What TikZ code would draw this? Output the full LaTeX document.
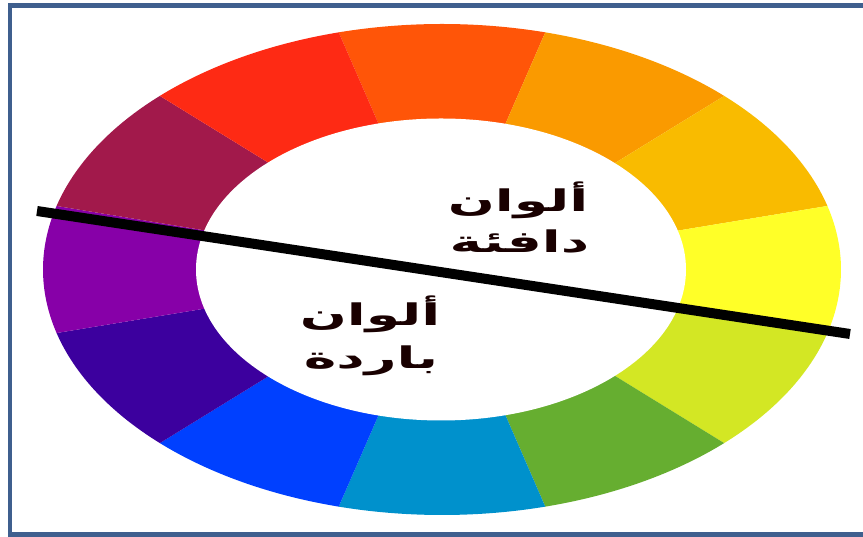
\documentclass[tikz,border=0pt]{standalone}
\usepackage{fontspec}
\usepackage{tikz}
\usetikzlibrary{positioning}
\TeXXeTstate=1
\newfontfamily\arabicfont[Script=Arabic]{DejaVu Sans}
\definecolor{frameBlue}{HTML}{3F5F8E}
\definecolor{wheelTop}{HTML}{FF5508}
\definecolor{wheelOrange}{HTML}{FA9A00}
\definecolor{wheelAmber}{HTML}{F9BB00}
\definecolor{wheelYellow}{HTML}{FFFF28}
\definecolor{wheelLime}{HTML}{D3E724}
\definecolor{wheelGreen}{HTML}{66AE30}
\definecolor{wheelCyan}{HTML}{0091CC}
\definecolor{wheelBlue}{HTML}{0040FF}
\definecolor{wheelIndigo}{HTML}{3C009E}
\definecolor{wheelPurple}{HTML}{8700A8}
\definecolor{wheelMaroon}{HTML}{A2194B}
\definecolor{wheelRed}{HTML}{FE2A14}

\begin{document}
\begin{tikzpicture}[x=0.02cm, y=0.02cm,
  frameline/.style={draw=frameBlue, line width=0.1cm},
  divider/.style={draw=black, line width=0.2cm},
  colourtext/.style={font=\arabicfont\bfseries\fontsize{17}{20}\selectfont, text=black!90!red, inner sep=0pt}]
  \useasboundingbox (0,0) rectangle (863,537);
  \clip (0,0) rectangle (863,537);
  \fill[white] (0,0) rectangle (863,537);
  \draw[frameline] (10,531.5) rectangle (880,2.5);
  % colour wheel, twelve slices
  \begin{scope}[shift={(442,267.5)}]
    \foreach \a/\col in {75/wheelTop, 45/wheelOrange, 15/wheelAmber, -15/wheelYellow,
      -45/wheelLime, -75/wheelGreen, -105/wheelCyan, -135/wheelBlue, -165/wheelIndigo,
      165/wheelPurple, 135/wheelMaroon, 105/wheelRed}
      \fill[\col] (0,0) -- (\a:399 and 245.5) arc[start angle=\a, delta angle=30, x radius=399, y radius=245.5] -- cycle;
    \fill[white] (-1,0) ellipse [x radius=245, y radius=151];
  \end{scope}
  % dividing line
  \coordinate (cutW) at (37,326);
  \coordinate (cutE) at (850,203);
  \draw[divider] (cutW) -- (cutE);
  % warm colours
  \node[colourtext] (warmA) at (518,336.5) {\scalebox{1.85}[1]{\beginR ألوان\endR}};
  \node[colourtext] (warmB) at (519.5,295.5) {\scalebox{1.85}[1]{\beginR دافئة\endR}};
  % cool colours
  \node[colourtext] (coolA) at (370,223) {\scalebox{1.85}[1]{\beginR ألوان\endR}};
  \node[colourtext] (coolB) at (371,176) {\scalebox{1.85}[1]{\beginR باردة\endR}};
\end{tikzpicture}
\end{document}
